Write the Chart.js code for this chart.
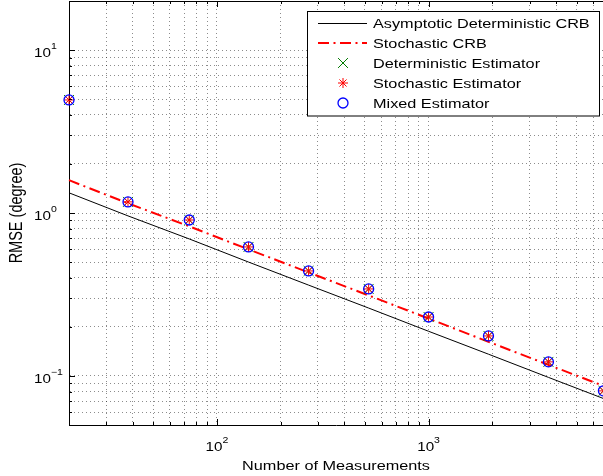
<!DOCTYPE html>
<html>
<head>
<meta charset="utf-8">
<script src="https://cdn.jsdelivr.net/npm/chart.js@4.4.0/dist/chart.umd.min.js"></script>
<style>
  html, body { margin: 0; padding: 0; background: #fff; }
  #wrap { width: 603px; height: 476px; }
</style>
</head>
<body>
<div id="wrap"><canvas id="rmse-chart" width="603" height="476"></canvas></div>
<script>
// ============================================
// RMSE vs number of measurements (log-log)
// ============================================

const measurements     = [20, 38, 74, 141, 271, 521, 1000, 1919, 3684, 6700];
const deterministicCrb = [1.33, 0.96, 0.693, 0.50, 0.361, 0.261, 0.188, 0.136, 0.098, 0.0727];
const stochasticCrb    = [1.59, 1.147, 0.828, 0.598, 0.432, 0.312, 0.225, 0.162, 0.117, 0.0869];
const deterministicEst = [4.94, 1.17, 0.906, 0.619, 0.441, 0.342, 0.230, 0.176, 0.122, 0.081];
const stochasticEst    = [4.94, 1.17, 0.906, 0.619, 0.441, 0.342, 0.230, 0.176, 0.122, 0.081];
const mixedEst         = [4.94, 1.17, 0.906, 0.619, 0.441, 0.342, 0.230, 0.176, 0.122, 0.081];

const xRange = [20, 6670];
const yRange = [0.05, 20];
const xTickLabels = [100, 1000];
const yTickLabels = [10, 1, 0.1];

const legendLabels = [
  'Asymptotic Deterministic CRB',
  'Stochastic CRB',
  'Deterministic Estimator',
  'Stochastic Estimator',
  'Mixed Estimator'
];

const FONT = '"Liberation Sans", Arial, sans-serif';
const TEXT_SX = 1.25;       // text is drawn slightly wide
const DASH_DOT = [11, 4.5, 2, 4.5];

// 1..9 x 10^k positions inside a range (grid lines and tick marks)
function decadeSteps(min, max) {
  const out = [];
  for (let e = Math.floor(Math.log10(min)); e <= Math.ceil(Math.log10(max)); e++) {
    for (let m = 1; m <= 9; m++) {
      const v = m * Math.pow(10, e);
      if (v >= min * 0.999 && v <= max * 1.001) out.push(v);
    }
  }
  return out;
}

const xGrid = decadeSteps(xRange[0], xRange[1]);
const yGrid = decadeSteps(yRange[0], yRange[1]);

function pairs(ys) {
  return measurements.map((x, i) => ({ x, y: ys[i] }));
}

function wideText(ctx, text, x, y, size, align, sx) {
  ctx.save();
  ctx.font = size + 'px ' + FONT;
  ctx.translate(x, y);
  ctx.scale(sx, 1);
  ctx.textAlign = align;
  ctx.textBaseline = 'alphabetic';
  ctx.fillText(text, 0, 0);
  ctx.restore();
}

function textWidth(ctx, text, size) {
  ctx.save();
  ctx.font = size + 'px ' + FONT;
  const w = ctx.measureText(text).width;
  ctx.restore();
  return w;
}

function exponentOf(v) {
  const e = Math.round(Math.log10(v));
  return e < 0 ? '\u2212' + Math.abs(e) : String(e);
}

const matlabAxes = {
  id: 'matlabAxes',
  afterDraw(chart) {
    const ctx = chart.ctx;
    const { left, right, top, bottom } = chart.chartArea;
    const xs = chart.scales.x;
    const ys = chart.scales.y;
    const sx = 1.17;

    ctx.save();
    ctx.strokeStyle = '#000';
    ctx.lineWidth = 1;

    // top border
    ctx.beginPath();
    ctx.moveTo(left, top + 0.5);
    ctx.lineTo(right, top + 0.5);
    ctx.stroke();

    // inward tick marks
    ctx.beginPath();
    xGrid.forEach(v => {
      const px = Math.round(xs.getPixelForValue(v)) + 0.5;
      const len = Number.isInteger(Math.log10(v)) ? 6 : 3;
      ctx.moveTo(px, bottom);
      ctx.lineTo(px, bottom - len);
      ctx.moveTo(px, top);
      ctx.lineTo(px, top + len);
    });
    yGrid.forEach(v => {
      const py = Math.round(ys.getPixelForValue(v)) + 0.5;
      const len = Math.abs(Math.log10(v) - Math.round(Math.log10(v))) < 1e-9 ? 6 : 3;
      ctx.moveTo(left, py);
      ctx.lineTo(left + len, py);
    });
    ctx.stroke();

    // tick labels as 10^n
    ctx.fillStyle = '#000';
    xTickLabels.forEach(v => {
      const px = xs.getPixelForValue(v);
      const exp = exponentOf(v);
      const wb = textWidth(ctx, '10', 13) * sx;
      const we = textWidth(ctx, exp, 9) * sx;
      const x0 = px - (wb + we) / 2;
      wideText(ctx, '10', x0, bottom + 26, 13, 'left', sx);
      wideText(ctx, exp, x0 + wb, bottom + 18, 9, 'left', sx);
    });
    yTickLabels.forEach(v => {
      const py = ys.getPixelForValue(v);
      const exp = exponentOf(v);
      const wb = textWidth(ctx, '10', 13) * sx;
      wideText(ctx, '10', 34, py + 7, 13, 'left', sx);
      wideText(ctx, exp, 34 + wb, py - 1, 9, 'left', sx);
    });

    // axis titles
    wideText(ctx, 'Number of Measurements', (left + right) / 2, 470, 13, 'center', TEXT_SX);
    ctx.save();
    ctx.translate(16.5, (top + bottom) / 2);
    ctx.scale(1.25, 1);
    ctx.rotate(-Math.PI / 2);
    ctx.font = '14.5px ' + FONT;
    ctx.textAlign = 'center';
    ctx.textBaseline = 'middle';
    ctx.fillText('RMSE (degree)', 0, 0);
    ctx.restore();

    // legend box
    const box = { x: 307.5, y: 11.5, w: 292, h: 104.5 };
    ctx.fillStyle = '#fff';
    ctx.fillRect(box.x, box.y, box.w, box.h);
    ctx.strokeStyle = '#000';
    ctx.strokeRect(box.x, box.y, box.w, box.h);

    const rows = [23, 43, 63, 83, 103];
    const lx0 = 318, lx1 = 367, mx = 343;

    ctx.beginPath();
    ctx.strokeStyle = '#000';
    ctx.lineWidth = 1;
    ctx.moveTo(lx0, rows[0] + 0.5);
    ctx.lineTo(lx1, rows[0] + 0.5);
    ctx.stroke();

    ctx.beginPath();
    ctx.strokeStyle = '#ff0000';
    ctx.lineWidth = 2;
    ctx.setLineDash(DASH_DOT);
    ctx.moveTo(lx0, rows[1]);
    ctx.lineTo(lx1, rows[1]);
    ctx.stroke();
    ctx.setLineDash([]);

    const markers = [
      { style: 'crossRot', color: '#007a00', radius: 7, width: 1 },
      { style: 'star', color: '#ff0000', radius: 5, width: 1 },
      { style: 'circle', color: '#0000ff', radius: 5, width: 1.3 }
    ];
    markers.forEach((m, i) => {
      ctx.strokeStyle = m.color;
      ctx.fillStyle = 'rgba(0,0,0,0)';
      ctx.lineWidth = m.width;
      Chart.helpers.drawPoint(ctx, { pointStyle: m.style, radius: m.radius, borderWidth: m.width, rotation: 0 }, mx, rows[i + 2]);
    });

    ctx.fillStyle = '#000';
    legendLabels.forEach((label, i) => {
      wideText(ctx, label, 373, rows[i] + 5, 13, 'left', TEXT_SX);
    });

    ctx.restore();
  }
};

const ctx = document.getElementById('rmse-chart').getContext('2d');

new Chart(ctx, {
  type: 'scatter',
  data: {
    datasets: [
      {
        label: legendLabels[0],
        data: pairs(deterministicCrb),
        showLine: true,
        borderColor: '#000',
        borderWidth: 1,
        pointRadius: 0,
        clip: false,
        order: 5
      },
      {
        label: legendLabels[1],
        data: pairs(stochasticCrb),
        showLine: true,
        borderColor: '#ff0000',
        borderWidth: 2,
        borderDash: DASH_DOT,
        pointRadius: 0,
        clip: false,
        order: 4
      },
      {
        label: legendLabels[2],
        data: pairs(deterministicEst),
        pointStyle: 'crossRot',
        pointRadius: 7,
        borderColor: '#007a00',
        borderWidth: 1,
        backgroundColor: 'transparent',
        clip: false,
        order: 3
      },
      {
        label: legendLabels[3],
        data: pairs(stochasticEst),
        pointStyle: 'star',
        pointRadius: 5,
        borderColor: '#ff0000',
        borderWidth: 1,
        backgroundColor: 'transparent',
        clip: false,
        order: 2
      },
      {
        label: legendLabels[4],
        data: pairs(mixedEst),
        pointStyle: 'circle',
        pointRadius: 5,
        borderColor: '#0000ff',
        borderWidth: 1.3,
        backgroundColor: 'transparent',
        clip: false,
        order: 1
      }
    ]
  },
  options: {
    responsive: false,
    animation: false,
    events: [],
    layout: { autoPadding: false, padding: { left: 69, top: 1, right: 0, bottom: 51 } },
    plugins: {
      legend: { display: false },
      tooltip: { enabled: false }
    },
    scales: {
      x: {
        type: 'logarithmic',
        min: xRange[0],
        max: xRange[1],
        afterBuildTicks: scale => { scale.ticks = xGrid.map(v => ({ value: v })); },
        ticks: { display: false },
        grid: { color: 'rgba(0,0,0,0.45)', lineWidth: 1, drawTicks: false },
        border: { display: true, color: '#000', width: 1, dash: [1, 3] }
      },
      y: {
        type: 'logarithmic',
        min: yRange[0],
        max: yRange[1],
        afterBuildTicks: scale => { scale.ticks = yGrid.map(v => ({ value: v })); },
        ticks: { display: false },
        grid: { color: 'rgba(0,0,0,0.45)', lineWidth: 1, drawTicks: false },
        border: { display: true, color: '#000', width: 1, dash: [1, 3] }
      }
    }
  },
  plugins: [matlabAxes]
});
</script>
</body>
</html>
